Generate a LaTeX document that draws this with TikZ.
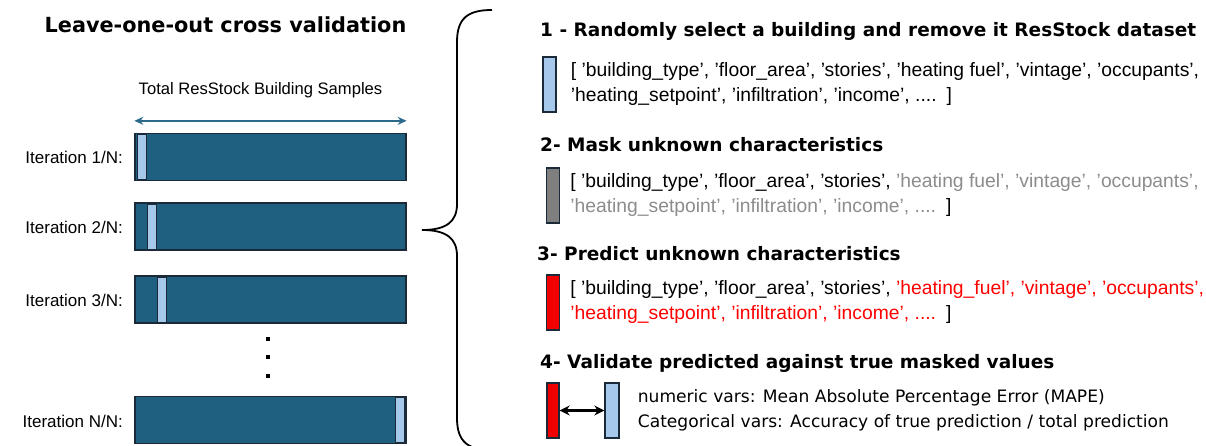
\documentclass[tikz,border=0pt]{standalone}
\usepackage{fontspec}
\setmainfont{Liberation Sans}
\newfontfamily\widefont{DejaVu Sans}
\usetikzlibrary{arrows.meta,positioning}

\definecolor{sampleblue}{HTML}{1F5F7F}
\definecolor{spanblue}{HTML}{2B6A8C}
\definecolor{leftoutblue}{HTML}{A6C8EA}
\definecolor{maskgray}{HTML}{7F7F7F}
\definecolor{masktext}{HTML}{8C8C8C}
\definecolor{predred}{HTML}{F00000}
\definecolor{edgenavy}{HTML}{1B2A38}

\begin{document}
\begin{tikzpicture}[x=1pt,y=-1pt]

	\tikzstyle sample bar=[draw=edgenavy, line width=1.3pt, fill=sampleblue, minimum width=271pt, minimum height=47pt, inner sep=0pt];
	\tikzstyle left out=[draw=edgenavy, line width=0.9pt, fill=leftoutblue, minimum width=9pt, minimum height=45pt, inner sep=0pt];
	\tikzstyle row box=[draw=edgenavy, line width=1.3pt, minimum width=13pt, minimum height=55pt, inner sep=0pt];
	\tikzstyle step title=[anchor=base west, inner sep=0pt, font=\widefont\bfseries\fontsize{18.5}{22}\selectfont];
	\tikzstyle feature list=[align=left, inner sep=0pt, font=\fontsize{19.3}{25}\selectfont];
	\tikzstyle metric text=[align=left, inner sep=0pt, font=\widefont\fontsize{17.1}{25}\selectfont];

	\useasboundingbox (0,0) rectangle (1206,446);
	\clip (0,0) rectangle (1206,446);

	% left: one building held out per iteration
	\node[anchor=base, inner sep=0pt, font=\widefont\bfseries\fontsize{20.8}{24}\selectfont] (title) at (225.5,33) {Leave-one-out cross validation};

	\foreach \y/\name/\n/\x in {157/it1/1/141.5, 226.5/it2/2/151.5, 299.5/it3/3/162, 420/itN/N/399.5}
	{
		\node[sample bar] (\name) at (270.5,\y) {};
		\node[left out] (\name out) at (\x,\y) {};
		\node[anchor=base east, inner sep=0pt, font=\fontsize{17}{20}\selectfont] (\name label) at (123,\y+7) {Iteration \n/N:};
	}

	\coordinate (span west) at ([yshift=12pt]it1.north west);
	\coordinate (span east) at ([yshift=12pt]it1.north east);
	\draw[spanblue, line width=1.6pt, {Stealth[length=9pt,width=8pt]}-{Stealth[length=9pt,width=8pt]}] (span west) -- (span east);
	\node[anchor=base, inner sep=0pt, font=\fontsize{16.6}{20}\selectfont] (span label) at (260.5,95) {Total ResStock Building Samples};

	\foreach \y in {339,357,376}
		\node[fill=black, minimum size=4pt, inner sep=0pt] at (268,\y) {};

	% the brace
	\draw[line width=1.8pt] (492,10) .. controls (468,10) and (457,18) .. (457,42) -- (457,204) .. controls (457,222) and (446,230) .. (422,230) .. controls (446,230) and (457,238) .. (457,256) -- (457,418) .. controls (457,442) and (468,450) .. (492,450);

	% right: the four steps
	\node[step title] (step1) at (540,37) {1 - Randomly select a building and remove it ResStock dataset};
	\node[row box, fill=leftoutblue] (box1) at (549.5,84.5) {};
	\node[feature list, right=14pt of box1] (list1) {[ 'building\_type', 'floor\_area', 'stories', 'heating fuel', 'vintage', 'occupants',\\'heating\_setpoint', 'infiltration', 'income', ....\hspace{10pt}]};

	\node[step title] (step2) at (540,152) {2- Mask unknown characteristics};
	\node[row box, fill=maskgray] (box2) at (553,195.5) {};
	\node[feature list, right=10pt of box2] (list2) {[ 'building\_type', 'floor\_area', 'stories', {\color{masktext}'heating fuel', 'vintage', 'occupants',}\\{\color{masktext}'heating\_setpoint', 'infiltration', 'income', ....}\hspace{10pt}]};

	\node[step title] (step3) at (537,260) {3- Predict unknown characteristics};
	\node[row box, fill=predred] (box3) at (553,302.5) {};
	\node[feature list, right=10pt of box3] (list3) {[ 'building\_type', 'floor\_area', 'stories', {\color{red}'heating\_fuel', 'vintage', 'occupants',}\\{\color{red}'heating\_setpoint', 'infiltration', 'income', ....}\hspace{10pt}]};

	\node[step title] (step4) at (540,368) {4- Validate predicted against true masked values};
	\node[row box, fill=predred, minimum width=12pt] (pred) at (553,410.5) {};
	\node[row box, fill=leftoutblue, minimum width=14pt] (truth) at (612,410.5) {};
	\draw[line width=2.2pt, {Stealth[length=10pt,width=10pt]}-{Stealth[length=10pt,width=10pt]}] (pred) -- (truth);
	\node[metric text, right=18pt of truth] (metrics) {numeric vars: Mean Absolute Percentage Error (MAPE)\\Categorical vars: Accuracy of true prediction / total prediction};

\end{tikzpicture}
\end{document}
